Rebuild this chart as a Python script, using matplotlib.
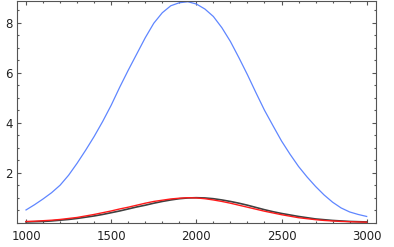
import matplotlib
matplotlib.use("Agg")
import matplotlib.pyplot as plt
from matplotlib.ticker import MultipleLocator, FixedLocator

x = [1000, 1050, 1100, 1150, 1200, 1250, 1300, 1350, 1400, 1450, 1500,
     1550, 1600, 1650, 1700, 1750, 1800, 1850, 1900, 1950, 2000,
     2050, 2100, 2150, 2200, 2250, 2300, 2350, 2400, 2450, 2500,
     2550, 2600, 2650, 2700, 2750, 2800, 2850, 2900, 2950, 3000]
blue = [0.51, 0.72, 0.95, 1.2, 1.5, 1.9, 2.38, 2.9, 3.45, 4.05, 4.7,
        5.42, 6.1, 6.75, 7.4, 7.98, 8.4, 8.68, 8.8, 8.84, 8.75,
        8.55, 8.25, 7.8, 7.25, 6.6, 5.92, 5.2, 4.5, 3.88, 3.27,
        2.74, 2.25, 1.83, 1.45, 1.11, 0.82, 0.59, 0.43, 0.33, 0.25]
black = [0.03, 0.04, 0.05, 0.07, 0.1, 0.13, 0.17, 0.22, 0.27, 0.33, 0.4,
         0.47, 0.55, 0.63, 0.7, 0.78, 0.85, 0.91, 0.96, 0.99, 1.0,
         0.99, 0.96, 0.91, 0.85, 0.78, 0.7, 0.61, 0.52, 0.44, 0.37,
         0.31, 0.25, 0.2, 0.15, 0.12, 0.09, 0.07, 0.05, 0.04, 0.03]
red = [0.05, 0.06, 0.08, 0.1, 0.13, 0.17, 0.21, 0.27, 0.33, 0.4, 0.47,
       0.55, 0.62, 0.7, 0.78, 0.85, 0.9, 0.95, 0.98, 1.0, 0.99,
       0.96, 0.91, 0.85, 0.78, 0.7, 0.62, 0.54, 0.46, 0.39, 0.32,
       0.26, 0.2, 0.16, 0.12, 0.09, 0.07, 0.05, 0.04, 0.03, 0.02]
xticks = [1000, 1500, 2000, 2500, 3000]
yticks = [2, 4, 6, 8]

fig = plt.figure(figsize=(3.94, 2.47), dpi=100)
ax = fig.add_axes([17/394, 24.3/247, (375.7-17)/394, (222.7-1)/247])
ax.plot(x, black, color="#404040", lw=1.2)
ax.plot(x, red, color="#ff1a1a", lw=1.0)
ax.plot(x, blue, color="#5f86ff", lw=0.9)

ax.set_xlim(947, 3053)
ax.set_ylim(0, 8.87)
ax.xaxis.set_major_locator(FixedLocator(xticks))
ax.yaxis.set_major_locator(FixedLocator(yticks))
ax.xaxis.set_minor_locator(MultipleLocator(100))
ax.yaxis.set_minor_locator(MultipleLocator(0.5))
ax.tick_params(which="both", direction="in", top=True, right=True,
               color="#555555", width=0.8, labelsize=8.5, labelcolor="#222222")
ax.tick_params(which="major", length=3)
ax.tick_params(which="minor", length=1.6)
ax.tick_params(axis="x", pad=5)
ax.tick_params(axis="y", pad=3)
for s in ax.spines.values():
    s.set_color("#555555")
    s.set_linewidth(0.8)

fig.savefig("out.png", dpi=100)
